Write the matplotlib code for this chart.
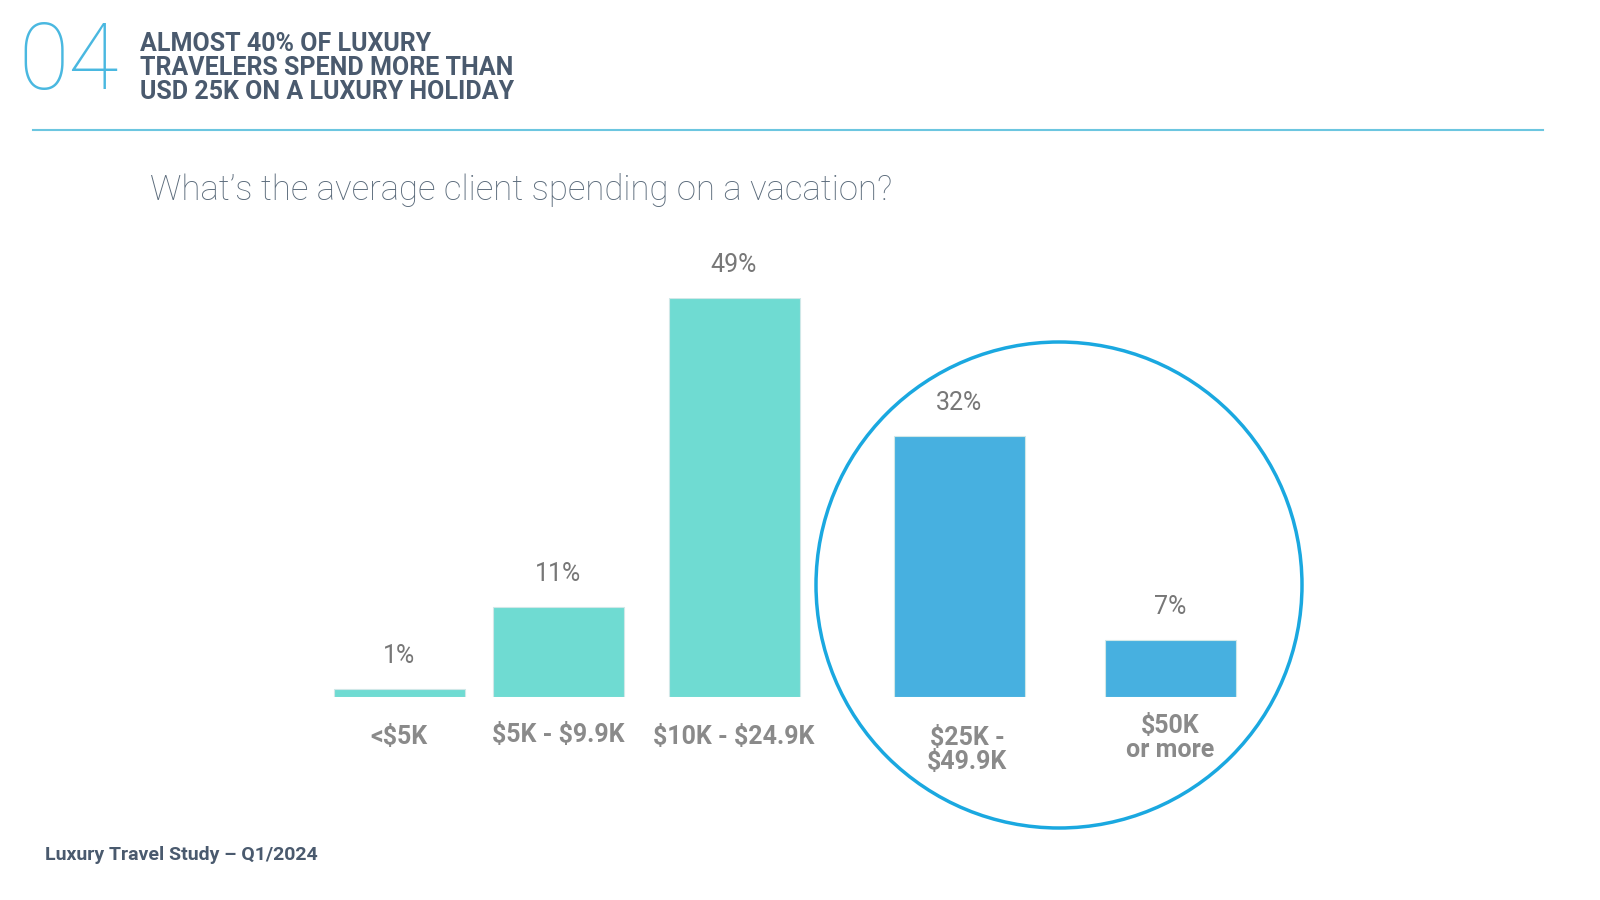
import matplotlib.pyplot as plt
from matplotlib.patches import Circle

plt.rcParams["text.parse_math"] = False

categories = ["<$5K", "$5K - $9.9K", "$10K - $24.9K", "$25K -\n$49.9K", "$50K\nor more"]
values = [1, 11, 49, 32, 7]
labels = ["1%", "11%", "49%", "32%", "7%"]

# layout (pixel positions of bar centres, as in the reference)
xpos = [399, 558, 734, 959, 1170]
colors = ["#6fdbd2"] * 3 + ["#47b0e0"] * 2

fig = plt.figure(figsize=(16, 9), dpi=100)
fig.patch.set_facecolor("white")

ax = fig.add_axes([0, 1 - 697 / 900, 1, 399 / 900])
ax.bar(xpos, values, width=131, color=colors, edgecolor="#d0e8e8", linewidth=0.8)
ax.set_xlim(0, 1600)
ax.set_ylim(0, 49)
ax.axis("off")
for x, v, l in zip(xpos, values, labels):
    ax.text(x, v + 2.6, l, ha="center", va="bottom", fontsize=18, color="#777777", family="Roboto")

# overlay for decorations
ov = fig.add_axes([0, 0, 1, 1], zorder=-1)
ov.set_xlim(0, 1600)
ov.set_ylim(900, 0)
ov.axis("off")

ov.text(18, 64, "04", fontsize=66, color="#4ab8e0", family="Roboto", weight="light", va="center")
ov.text(140, 68, "ALMOST 40% OF LUXURY\nTRAVELERS SPEND MORE THAN\nUSD 25K ON A LUXURY HOLIDAY",
        fontsize=18, weight="bold", color="#4a5a6e", family="Roboto", va="center", linespacing=1.0)
ov.plot([33, 1543], [130, 130], color="#6cc6e0", lw=1.5)
ov.text(150, 190, "What\u2019s the average client spending on a vacation?", fontsize=25,
        color="#5a6a7a", family="Roboto", weight="light", va="center")

label_y = [737, 735, 737, 750, 738]
for x, c, y in zip(xpos, categories, label_y):
    ov.text(x + (8 if "49.9" in c else 0), y, c, ha="center", va="center", fontsize=18, weight="bold",
            color="#8a8a8a", family="Roboto", linespacing=1.0)

ov.add_patch(Circle((1059, 585), 243, fill=False, edgecolor="#1aa8e0", lw=2.5, zorder=5))
ov.text(45, 855, "Luxury Travel Study \u2013 Q1/2024", fontsize=14, weight="bold",
        color="#4a5a6e", family="Roboto", va="center")

fig.savefig("out.png", dpi=100)
